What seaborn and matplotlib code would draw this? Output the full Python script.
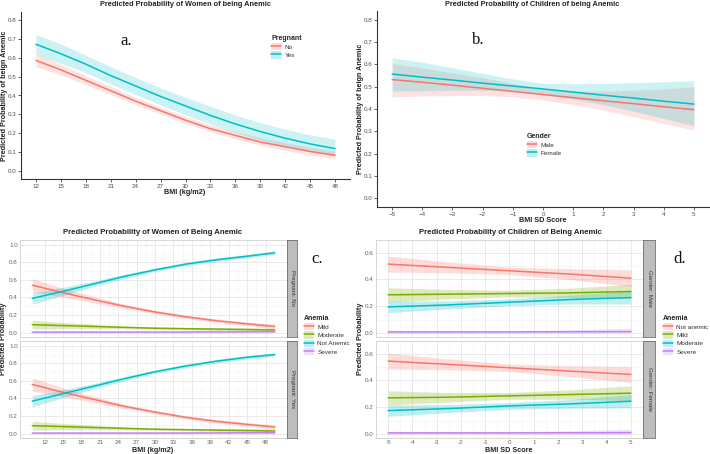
import numpy as np
import pandas as pd
import seaborn as sns
import matplotlib.pyplot as plt
from matplotlib.patches import Patch
from matplotlib.lines import Line2D

# ---- panel a: women, by pregnancy ----
bmi_a = [12, 15, 18, 21, 24, 27, 30, 33, 36, 39, 42, 45, 48]
no_fit = [0.585, 0.535, 0.480, 0.425, 0.370, 0.320, 0.270, 0.225, 0.190, 0.155, 0.130, 0.105, 0.085]
no_lo = [0.552, 0.507, 0.458, 0.405, 0.352, 0.302, 0.254, 0.210, 0.172, 0.138, 0.110, 0.087, 0.065]
no_hi = [0.618, 0.565, 0.505, 0.447, 0.390, 0.338, 0.290, 0.245, 0.210, 0.178, 0.152, 0.128, 0.108]
yes_fit = [0.670, 0.620, 0.565, 0.505, 0.450, 0.395, 0.345, 0.295, 0.250, 0.210, 0.175, 0.145, 0.120]
yes_lo = [0.615, 0.570, 0.520, 0.462, 0.405, 0.350, 0.298, 0.250, 0.205, 0.165, 0.130, 0.105, 0.083]
yes_hi = [0.722, 0.672, 0.612, 0.552, 0.495, 0.440, 0.390, 0.343, 0.297, 0.257, 0.222, 0.193, 0.170]

# ---- panel b: children, by gender ----
sd_b = [-5, -4, -3, -2, -1, 0, 1, 2, 3, 4, 5]
male_fit = [0.532, 0.520, 0.507, 0.493, 0.479, 0.465, 0.451, 0.437, 0.424, 0.410, 0.397]
male_lo = [0.455, 0.458, 0.460, 0.460, 0.455, 0.440, 0.420, 0.395, 0.365, 0.335, 0.305]
male_hi = [0.605, 0.585, 0.562, 0.540, 0.515, 0.490, 0.480, 0.480, 0.485, 0.490, 0.500]
female_fit = [0.557, 0.543, 0.530, 0.516, 0.503, 0.490, 0.476, 0.462, 0.449, 0.435, 0.422]
female_lo = [0.480, 0.482, 0.484, 0.484, 0.480, 0.465, 0.445, 0.420, 0.390, 0.358, 0.325]
female_hi = [0.630, 0.610, 0.585, 0.560, 0.535, 0.515, 0.513, 0.515, 0.518, 0.522, 0.527]

# ---- panel c: women, anemia levels ----
bmi_c = [10, 15, 20, 25, 30, 35, 40, 45, 49.5]
c_no = {
    'Mild': [0.540, 0.455, 0.375, 0.300, 0.235, 0.180, 0.135, 0.100, 0.070],
    'Moderate': [0.090, 0.080, 0.070, 0.060, 0.050, 0.045, 0.040, 0.035, 0.030],
    'Not Anemic': [0.390, 0.470, 0.555, 0.640, 0.715, 0.780, 0.830, 0.870, 0.910],
    'Severe': [0.006, 0.006, 0.006, 0.006, 0.006, 0.007, 0.008, 0.009, 0.010],
}
c_yes = {
    'Mild': [0.560, 0.470, 0.390, 0.310, 0.245, 0.185, 0.140, 0.105, 0.075],
    'Moderate': [0.090, 0.080, 0.070, 0.060, 0.050, 0.045, 0.040, 0.035, 0.030],
    'Not Anemic': [0.370, 0.455, 0.540, 0.625, 0.705, 0.770, 0.825, 0.870, 0.900],
    'Severe': [0.006, 0.006, 0.006, 0.006, 0.006, 0.007, 0.008, 0.009, 0.010],
}
c_half = {
    'Mild': [0.075, 0.050, 0.035, 0.025, 0.020, 0.020, 0.020, 0.020, 0.025],
    'Moderate': [0.050, 0.035, 0.025, 0.015, 0.012, 0.012, 0.015, 0.018, 0.020],
    'Not Anemic': [0.065, 0.045, 0.030, 0.025, 0.020, 0.020, 0.020, 0.020, 0.020],
    'Severe': [0.008, 0.008, 0.008, 0.008, 0.009, 0.010, 0.012, 0.015, 0.020],
}

# ---- panel d: children, anemia levels ----
sd_d = [-5, -2.5, 0, 2.5, 5]
d_male = {
    'Not anemic': [0.515, 0.490, 0.465, 0.440, 0.410],
    'Mild': [0.285, 0.290, 0.295, 0.300, 0.310],
    'Moderate': [0.195, 0.210, 0.230, 0.250, 0.265],
    'Severe': [0.008, 0.008, 0.008, 0.009, 0.010],
}
d_male_half = {
    'Not anemic': [0.060, 0.040, 0.028, 0.040, 0.062],
    'Mild': [0.053, 0.035, 0.025, 0.035, 0.053],
    'Moderate': [0.043, 0.030, 0.025, 0.033, 0.048],
    'Severe': [0.012, 0.010, 0.010, 0.015, 0.025],
}
d_female = {
    'Not anemic': [0.545, 0.520, 0.495, 0.470, 0.445],
    'Mild': [0.270, 0.275, 0.285, 0.295, 0.305],
    'Moderate': [0.175, 0.190, 0.210, 0.225, 0.245],
    'Severe': [0.008, 0.008, 0.008, 0.009, 0.010],
}
d_female_half = {
    'Not anemic': [0.060, 0.040, 0.028, 0.040, 0.060],
    'Mild': [0.053, 0.035, 0.025, 0.035, 0.055],
    'Moderate': [0.043, 0.030, 0.025, 0.033, 0.050],
    'Severe': [0.012, 0.010, 0.010, 0.015, 0.025],
}

RED, GREEN, CYAN, PURPLE = '#F8766D', '#7CAE00', '#00BFC4', '#C77CFF'

sns.set_theme(style='white')
plt.rcParams['font.family'] = ['Liberation Sans', 'DejaVu Sans']

W, H = 710, 454
fig = plt.figure(figsize=(W / 100, H / 100), dpi=100)


def box(l, t, r, b):
    return [l / W, 1 - b / H, (r - l) / W, (b - t) / H]


def fx(x):
    return x / W


def fy(y):
    return 1 - y / H


def label(x, y, s, size=5.2, rot=0):
    fig.text(fx(x), fy(y), s, fontsize=size, fontweight='bold', rotation=rot,
             ha='center', va='center', color='#222222')


def add_legend(title, labels, colors, x, y):
    handles = [(Patch(facecolor=c, alpha=0.25, edgecolor='none'), Line2D([], [], color=c, lw=1.1))
               for c in colors]
    leg = fig.legend(handles, labels, title=title, loc='upper left',
                     bbox_to_anchor=(fx(x), fy(y)), frameon=False, fontsize=4.6,
                     title_fontproperties={'weight': 'bold', 'size': 5},
                     handlelength=1.6, handleheight=1.4, handletextpad=0.5,
                     labelspacing=0.15, borderpad=0, borderaxespad=0)
    leg._legend_box.align = 'left'
    for t in leg.get_texts():
        t.set_color('#333333')
    return leg


def classic(ax):
    sns.despine(ax=ax)
    for s in ['left', 'bottom']:
        ax.spines[s].set_color('#333333')
        ax.spines[s].set_linewidth(0.8)
    ax.tick_params(axis='both', labelsize=4.5, colors='#4D4D4D', length=2, width=0.6,
                   pad=1.5, bottom=True, left=True)
    ax.set_xlabel('')
    ax.set_ylabel('')


# ---------------- panel a ----------------
ax_a = fig.add_axes(box(21, 12, 350, 179))
df_a = pd.DataFrame({'BMI': bmi_a * 2, 'p': no_fit + yes_fit,
                     'Pregnant': ['No'] * len(bmi_a) + ['Yes'] * len(bmi_a)})
ax_a.fill_between(bmi_a, no_lo, no_hi, color=RED, alpha=0.2, lw=0)
ax_a.fill_between(bmi_a, yes_lo, yes_hi, color=CYAN, alpha=0.2, lw=0)
sns.lineplot(data=df_a, x='BMI', y='p', hue='Pregnant', palette=[RED, CYAN],
             lw=1.1, legend=False, ax=ax_a)
ax_a.set_xlim(10.2, 49.8)
ax_a.set_ylim(-0.04, 0.84)
ax_a.set_xticks(range(12, 49, 3))
ax_a.set_yticks(np.arange(0, 0.81, 0.1))
ax_a.set_yticklabels([f'{v:.1f}' for v in np.arange(0, 0.81, 0.1)])
classic(ax_a)
label(185, 192, 'BMI (kg/m2)')
label(4.5, 96, 'Predicted Probability of beign Anemic', rot=90)
label(185, 4, 'Predicted Probability of Women of being Anemic', size=5.3)
fig.text(fx(120), fy(41), 'a.', fontsize=12, family='Liberation Serif', ha='left', va='center',
         color='#111111')
add_legend('Pregnant', ['No', 'Yes'], [RED, CYAN], 271, 35)

# ---------------- panel b ----------------
ax_b = fig.add_axes(box(377, 11, 709, 207))
df_b = pd.DataFrame({'SD': sd_b * 2, 'p': male_fit + female_fit,
                     'Gender': ['Male'] * len(sd_b) + ['Female'] * len(sd_b)})
ax_b.fill_between(sd_b, male_lo, male_hi, color=RED, alpha=0.2, lw=0)
ax_b.fill_between(sd_b, female_lo, female_hi, color=CYAN, alpha=0.2, lw=0)
sns.lineplot(data=df_b, x='SD', y='p', hue='Gender', palette=[RED, CYAN],
             lw=1.1, legend=False, ax=ax_b)
ax_b.set_xlim(-5.5, 5.5)
ax_b.set_ylim(-0.04, 0.84)
ax_b.set_xticks(range(-5, 6))
ax_b.set_yticks(np.arange(0, 0.81, 0.1))
ax_b.set_yticklabels([f'{v:.1f}' for v in np.arange(0, 0.81, 0.1)])
classic(ax_b)
label(543, 220, 'BMI SD Score')
label(360, 109, 'Predicted Probability of beign Anemic', rot=90)
label(532, 4, 'Predicted Probability of Children of being Anemic', size=5.3)
fig.text(fx(472), fy(40), 'b.', fontsize=12, family='Liberation Serif', ha='left', va='center',
         color='#111111')
add_legend('Gender', ['Male', 'Female'], [RED, CYAN], 527, 133)


# ---------------- facet panels ----------------
def facet_axis(l, t, r, b, xlim, ylim, xticks, yticks, strip_text, strip_l, strip_r, show_x):
    ax = fig.add_axes(box(l, t, r, b))
    ax.set_facecolor('white')
    ax.set_xlim(*xlim)
    ax.set_ylim(*ylim)
    ax.set_xticks(xticks)
    ax.set_yticks(yticks)
    ax.set_xticks([(a + c) / 2 for a, c in zip(xticks[:-1], xticks[1:])], minor=True)
    ax.set_yticks([(a + c) / 2 for a, c in zip(yticks[:-1], yticks[1:])], minor=True)
    ax.grid(True, which='major', color='#E6E6E6', lw=0.6)
    ax.grid(True, which='minor', color='#F2F2F2', lw=0.4)
    ax.set_axisbelow(True)
    for s in ax.spines.values():
        s.set_color('#D0D0D0')
        s.set_linewidth(0.6)
    ax.tick_params(axis='both', which='both', length=0, labelsize=4.5, colors='#666666', pad=1.5)
    ax.set_yticklabels([f'{v:.1f}' for v in yticks])
    if not show_x:
        ax.tick_params(axis='x', labelbottom=False)
    sax = fig.add_axes(box(strip_l, t, strip_r, b))
    sax.set_facecolor('#BDBDBD')
    sax.set_xticks([])
    sax.set_yticks([])
    for s in sax.spines.values():
        s.set_color('#707070')
        s.set_linewidth(0.6)
    sax.text(0.5, 0.5, strip_text, rotation=-90, ha='center', va='center', fontsize=4.4,
             color='#333333', transform=sax.transAxes)
    return ax


def draw_levels(ax, x, fits, halves, levels, colors):
    rows = []
    for lev, col in zip(levels, colors):
        fit = np.array(fits[lev])
        hw = np.array(halves[lev])
        lo = np.clip(fit - hw, 0, None)
        ax.fill_between(x, lo, fit + hw, color=col, alpha=0.25, lw=0)
        rows.append(pd.DataFrame({'x': x, 'p': fit, 'Anemia': lev}))
    df = pd.concat(rows)
    sns.lineplot(data=df, x='x', y='p', hue='Anemia', palette=colors, hue_order=levels,
                 lw=1.1, legend=False, ax=ax)
    ax.set_xlabel('')
    ax.set_ylabel('')


lev_c = ['Mild', 'Moderate', 'Not Anemic', 'Severe']
col_c = [RED, GREEN, CYAN, PURPLE]
xt_c = list(range(12, 49, 3))
yt_c = [0.0, 0.2, 0.4, 0.6, 0.8, 1.0]
ax_c1 = facet_axis(20, 240, 287, 337, (8.0, 51.5), (-0.05, 1.055), xt_c, yt_c,
                   'Pregnant: No', 287, 297, False)
draw_levels(ax_c1, bmi_c, c_no, c_half, lev_c, col_c)
ax_c2 = facet_axis(20, 341, 287, 438, (8.0, 51.5), (-0.05, 1.055), xt_c, yt_c,
                   'Pregnant: Yes', 287, 297, True)
draw_levels(ax_c2, bmi_c, c_yes, c_half, lev_c, col_c)
ax_c2.set_xticklabels([str(v) for v in xt_c])
label(153, 450.5, 'BMI (kg/m2)')
label(4, 339, 'Predicted Probability', rot=90)
label(153, 233, 'Predicted Probability of Women of Being Anemic', size=5.6)
fig.text(fx(311), fy(259), 'c.', fontsize=12, family='Liberation Serif', ha='left', va='center',
         color='#111111')
add_legend('Anemia', lev_c, col_c, 304, 315)

lev_d = ['Not anemic', 'Mild', 'Moderate', 'Severe']
col_d = [RED, GREEN, CYAN, PURPLE]
xt_d = list(range(-5, 6))
yt_d = [0.0, 0.2, 0.4, 0.6]
ax_d1 = facet_axis(376, 240, 643, 337, (-5.5, 5.5), (-0.03, 0.695), xt_d, yt_d,
                   'Gender: Male', 643, 655, False)
draw_levels(ax_d1, sd_d, d_male, d_male_half, lev_d, col_d)
ax_d2 = facet_axis(376, 341, 643, 438, (-5.5, 5.5), (-0.03, 0.695), xt_d, yt_d,
                   'Gender: Female', 643, 655, True)
draw_levels(ax_d2, sd_d, d_female, d_female_half, lev_d, col_d)
ax_d2.set_xticklabels([str(v) for v in xt_d])
label(509, 450.5, 'BMI SD Score')
label(360, 339, 'Predicted Probability', rot=90)
label(510, 233, 'Predicted Probability of Children of Being Anemic', size=5.6)
fig.text(fx(673), fy(259), 'd.', fontsize=12, family='Liberation Serif', ha='left', va='center',
         color='#111111')
add_legend('Anemia', lev_d, col_d, 663, 315)

fig.savefig('out.png', dpi=100)
